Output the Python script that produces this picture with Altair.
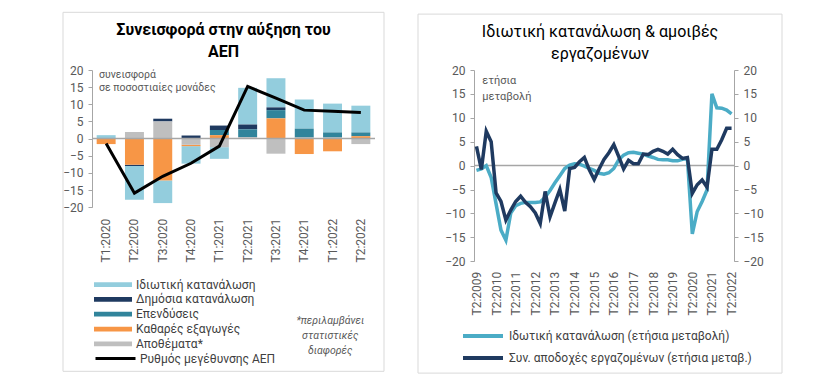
import altair as alt
import pandas as pd

# ---------------- Left panel data ----------------
quarters = ["T1:2020", "T2:2020", "T3:2020", "T4:2020", "T1:2021",
            "T2:2021", "T3:2021", "T4:2021", "T1:2022", "T2:2022"]
series = ["Ιδιωτική κατανάλωση", "Δημόσια κατανάλωση", "Επενδύσεις",
          "Καθαρές εξαγωγές", "Αποθέματα*"]
series_colors = ["#93CDDD", "#1F3A60", "#31849B", "#F79646", "#BFBFBF"]
stack_order = [4, 3, 2, 1, 0]

private_cons = [0.8, -9.8, -6.6, -5.1, -3.4, 10.7, 8.5, 8.5, 8.4, 7.8]
public_cons = [0.0, -0.4, 0.8, 0.9, 1.3, 1.4, 0.8, 0.0, 0.0, 0.0]
investment = [0.2, 0.0, 0.0, 0.0, 1.5, 2.3, 2.4, 2.6, 1.5, 1.1]
net_exports = [-1.6, -7.6, -12.2, -0.4, 1.0, 0.0, 5.9, -4.5, -3.7, 0.7]
inventories = [0.0, 1.9, 5.0, -1.8, -2.5, 0.4, -4.4, 0.3, 0.3, -1.6]
gdp_growth = [-1.4, -15.9, -11.0, -7.2, -2.2, 15.2, 11.8, 8.3, 8.0, 7.6]
gdp_name = "Ρυθμός μεγέθυνσης ΑΕΠ"

# ---------------- Right panel data ----------------
quarters_r = [f"T{q}:{y}" for y in range(2009, 2023) for q in range(1, 5)][1:54]
cons_name = "Ιδωτική κατανάλωση (ετήσια μεταβολή)"
wage_name = "Συν. αποδοχές εργαζομένων (ετήσια μεταβ.)"
private_cons_yoy = [-1.0, -0.7, 0.0, -2.5, -8.0, -13.5, -15.6, -9.9, -8.4, -7.9,
                    -7.7, -7.7, -7.7, -7.6, -6.6, -5.2, -3.6, -2.1, -0.6, 0.1,
                    0.4, 0.3, -0.1, -0.6, -1.0, -1.6, -1.8, -1.5, -0.6, 1.2,
                    2.2, 2.7, 2.8, 2.6, 2.4, 2.0, 1.7, 1.3, 1.2, 1.2,
                    1.0, 1.0, 1.3, 1.5, -14.3, -9.6, -7.5, -5.1, 15.0, 12.1,
                    12.0, 11.6, 10.8]
compensation_yoy = [4.0, -0.8, 7.2, 5.0, -5.7, -7.5, -11.4, -9.3, -7.5, -6.4,
                    -7.7, -8.6, -9.9, -12.1, -5.4, -10.7, -7.8, -5.0, -9.5, -0.6,
                    -0.4, 0.8, 1.7, -0.9, -2.9, -0.7, 1.3, 2.7, 4.4, 1.9,
                    -0.7, 1.1, 0.4, 0.4, 2.4, 2.3, 3.0, 3.4, 3.0, 2.4,
                    3.4, 2.3, 1.5, 1.7, -5.8, -4.0, -3.0, -4.5, 3.4, 3.4,
                    5.4, 7.8, 7.8]
line_colors = ["#4BACC6", "#1F3A60"]

y_ticks = [-20, -15, -10, -5, 0, 5, 10, 15, 20]

# ---------------- tables ----------------
rows = []
for s, vals, o in zip(series, [private_cons, public_cons, investment, net_exports, inventories], stack_order):
    for q, v in zip(quarters, vals):
        rows.append({"q": q, "series": s, "v": v, "ord": o})
bars_df = pd.DataFrame(rows)
gdp_df = pd.DataFrame({"q": quarters, "v": gdp_growth, "name": [gdp_name] * len(quarters)})
one_df = pd.DataFrame({"z": [0]})
lines_df = pd.DataFrame({
    "q": quarters_r * 2,
    "v": private_cons_yoy + compensation_yoy,
    "s": [cons_name] * len(quarters_r) + [wage_name] * len(quarters_r),
    "k": [0] * len(quarters_r) + [1] * len(quarters_r),
})

FONT = "Roboto"
AXIS_GRAY = "#A6A6A6"
LABEL = "#595959"


def y_axis(orient="left"):
    return alt.Axis(title=None, values=y_ticks, grid=False, domainColor=AXIS_GRAY,
                    tickColor=AXIS_GRAY, tickSize=4, labelPadding=5, labelFontSize=12,
                    labelColor=LABEL, labelFont=FONT, labelOverlap=False,
                    labelFlush=False, orient=orient)


# ---------------- Left panel ----------------
LW, LH = 283, 137.2
yscale_l = alt.Scale(domain=[-20, 20], nice=False, zero=False)
xscale_l = alt.Scale(domain=quarters, paddingInner=0.33, paddingOuter=0.165)

x_axis_l = alt.Axis(title=None, labelAngle=270, ticks=False, tickSize=0, domain=False,
                    labelPadding=11, labelFontSize=12, labelColor=LABEL, labelOverlap=False,
                    labelFont=FONT)

border_l = alt.Chart(one_df).mark_rect(fill="white", fillOpacity=0, stroke="#D9D9D9",
                                       strokeWidth=1).encode(
    x=alt.value(-29), x2=alt.value(292), y=alt.value(-57.7), y2=alt.value(301.3))

bars = alt.Chart(bars_df).mark_bar().encode(
    x=alt.X("q:N", scale=xscale_l, axis=x_axis_l),
    y=alt.Y("v:Q", scale=yscale_l, axis=y_axis(), stack="zero"),
    color=alt.Color("series:N", scale=alt.Scale(domain=series, range=series_colors),
                    legend=alt.Legend(title=None, orient="none", legendX=2, legendY=207.6,
                                      symbolType="M-1,-0.125L1,-0.125L1,0.125L-1,0.125Z",
                                      symbolSize=1444, symbolStrokeWidth=0, symbolOpacity=1,
                                      labelFontSize=12, labelColor="#404040", labelFont=FONT,
                                      labelOffset=4, clipHeight=14, rowPadding=0.8,
                                      padding=0, labelLimit=300)),
    order=alt.Order("ord:Q", sort="ascending"),
)

zero_l = alt.Chart(one_df).mark_rule(color=AXIS_GRAY, strokeWidth=1.5).encode(
    y=alt.Y("z:Q", scale=yscale_l, axis=y_axis()), x=alt.value(0), x2=alt.value(LW))

gdp_line = alt.Chart(gdp_df).mark_line(strokeWidth=3).encode(
    x=alt.X("q:N", scale=xscale_l, axis=x_axis_l),
    y=alt.Y("v:Q", scale=yscale_l, axis=y_axis()),
    stroke=alt.Stroke("name:N", scale=alt.Scale(domain=[gdp_name], range=["#000000"]),
                      legend=alt.Legend(title=None, orient="none", legendX=2, legendY=281.6,
                                        symbolType="stroke", symbolSize=1600,
                                        symbolStrokeWidth=3, labelFontSize=12,
                                        labelColor="#404040", labelFont=FONT, labelOffset=3,
                                        clipHeight=14, padding=0, labelLimit=300)),
)

note_l = alt.Chart(one_df).mark_text(align="left", baseline="alphabetic", fontSize=10.5,
                                     color=LABEL, lineBreak="\n", lineHeight=12.5,
                                     font=FONT).encode(
    x=alt.value(7), y=alt.value(8.3), text=alt.value("συνεισφορά\nσε ποσοστιαίες μονάδες"))

foot_l = alt.Chart(one_df).mark_text(align="center", baseline="top", fontSize=10.5,
                                     fontStyle="italic", color=LABEL, lineBreak="\n",
                                     lineHeight=15, font=FONT).encode(
    x=alt.value(238.3), y=alt.value(245.5),
    text=alt.value("*περιλαμβάνει\nστατιστικές\nδιαφορές"))

left = alt.layer(border_l, bars, zero_l, gdp_line, note_l, foot_l).properties(
    width=LW, height=LH,
    title=alt.TitleParams(["Συνεισφορά στην αύξηση του", "ΑΕΠ"], fontSize=16,
                          fontWeight="bold", font=FONT, color="#000000", anchor="middle",
                          frame="group", dx=-10, offset=-48.5, lineHeight=22))

# ---------------- Right panel ----------------
RW, RH = 260, 191.2
yscale_r = alt.Scale(domain=[-20, 20], nice=False, zero=False)
xscale_r = alt.Scale(type="point", domain=quarters_r, padding=0.5)
x_axis_r = alt.Axis(title=None, values=[q for q in quarters_r if q.startswith("T2")],
                    labelAngle=270, ticks=False, tickSize=0, domain=False, labelPadding=10,
                    labelFontSize=12, labelColor=LABEL, labelOverlap=False, labelFont=FONT)

legend_r = alt.Legend(title=None, orient="none", legendX=-13, legendY=259.1,
                      symbolType="stroke", symbolSize=1600, symbolStrokeWidth=4,
                      labelFontSize=12, labelColor="#404040", labelFont=FONT, labelOffset=4,
                      clipHeight=14, rowPadding=8, padding=0, labelLimit=300)
color_r = alt.Color("s:N", scale=alt.Scale(domain=[cons_name, wage_name], range=line_colors),
                    legend=legend_r)

border_r = alt.Chart(one_df).mark_rect(fill="white", fillOpacity=0, stroke="#D9D9D9",
                                       strokeWidth=1).encode(
    x=alt.value(-56), x2=alt.value(308), y=alt.value(-55.9), y2=alt.value(303.1))

zero_r = alt.Chart(one_df).mark_rule(color=AXIS_GRAY, strokeWidth=1.5).encode(
    y=alt.Y("z:Q", scale=yscale_r, axis=y_axis("right")), x=alt.value(0), x2=alt.value(RW))

line_c = alt.Chart(lines_df).transform_filter(alt.datum.k == 0).mark_line(strokeWidth=3.5).encode(
    x=alt.X("q:O", scale=xscale_r, axis=x_axis_r),
    y=alt.Y("v:Q", scale=yscale_r, axis=y_axis()),
    color=color_r,
)
line_w = alt.Chart(lines_df).transform_filter(alt.datum.k == 1).mark_line(strokeWidth=3.5).encode(
    x=alt.X("q:O", scale=xscale_r, axis=x_axis_r),
    y=alt.Y("v:Q", scale=yscale_r, axis=None),
    color=color_r,
)

note_r = alt.Chart(one_df).mark_text(align="left", baseline="alphabetic", fontSize=11,
                                     color=LABEL, lineBreak="\n", lineHeight=16,
                                     font=FONT).encode(
    x=alt.value(8.3), y=alt.value(13.5), text=alt.value("ετήσια\nμεταβολή"))

right = alt.layer(border_r, zero_r, line_c, line_w, note_r).resolve_axis(y="independent").properties(
    width=RW, height=RH,
    title=alt.TitleParams(["Ιδιωτική κατανάλωση & αμοιβές", "εργαζομένων"], fontSize=16,
                          fontWeight="normal", font=FONT, color="#000000", anchor="middle",
                          frame="group", dx=-4, offset=-48.5, lineHeight=22))

chart = alt.hconcat(left, right, spacing=32).resolve_scale(
    color="independent", stroke="independent"
).resolve_legend(
    color="independent", stroke="independent"
).properties(
    padding={"left": 54, "top": 3, "right": 5, "bottom": 5}
).configure(font=FONT, background="white").configure_view(stroke=None)

chart.save("out.html", embed_options={"renderer": "svg", "actions": False})
